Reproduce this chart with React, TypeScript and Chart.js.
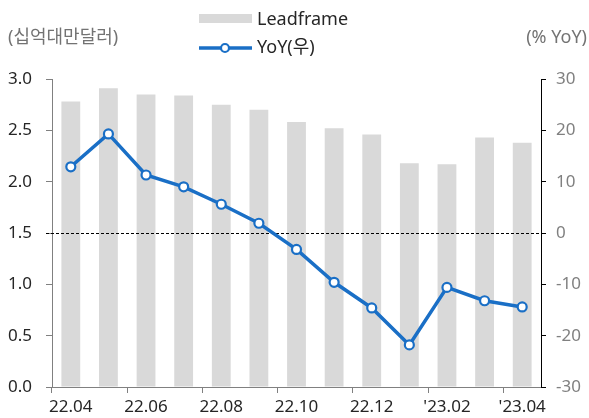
import React, { useEffect, useRef } from "react";
import { Chart, registerables } from "chart.js";

Chart.register(...registerables);

// Monthly categories (x axis)
const months = [
  "22.04", "22.05", "22.06", "22.07", "22.08", "22.09", "22.10",
  "22.11", "22.12", "'23.01", "'23.02", "'23.03", "'23.04",
];

// Leadframe revenue, billion NTD (left axis)
const leadframe = [2.78, 2.91, 2.85, 2.84, 2.75, 2.70, 2.58, 2.52, 2.46, 2.18, 2.17, 2.43, 2.38];

// Year-over-year change, % (right axis)
const yoy = [12.9, 19.3, 11.3, 9.0, 5.6, 1.9, -3.2, -9.6, -14.6, -21.8, -10.6, -13.2, -14.4];

const leftTitle = "(십억대만달러)";
const rightTitle = "(% YoY)";
const barLabel = "Leadframe";
const lineLabel = "YoY(우)";

const FONT = "'Noto Sans', 'Noto Sans CJK KR', sans-serif";
const BAR_COLOR = "#d9d9d9";
const LINE_COLOR = "#1a6fc6";

// Dashed zero line on the right axis, drawn over the bars but under the line
const zeroLine = {
  id: "zeroLine",
  afterDatasetDraw(chart: any, args: any) {
    if (args.meta.type !== "bar") return;
    const { ctx, chartArea } = chart;
    const y = Math.round(chart.scales.y1.getPixelForValue(0)) + 0.5;
    ctx.save();
    ctx.strokeStyle = "#000";
    ctx.lineWidth = 1;
    ctx.setLineDash([3, 2]);
    ctx.beginPath();
    ctx.moveTo(chartArea.left - 6, y);
    ctx.lineTo(chartArea.right, y);
    ctx.stroke();
    ctx.restore();
  },
};

// Axis unit titles and the two-row legend
const headerPlugin = {
  id: "header",
  afterDraw(chart: any) {
    const { ctx } = chart;
    ctx.save();
    ctx.textBaseline = "middle";

    ctx.font = `18px ${FONT}`;
    ctx.fillStyle = "#737373";
    ctx.textAlign = "left";
    ctx.fillText(leftTitle, 8, 38);
    ctx.textAlign = "right";
    ctx.fillText(rightTitle, 587, 38);

    // bar swatch
    ctx.fillStyle = BAR_COLOR;
    ctx.fillRect(199, 14, 53, 9);
    // line swatch
    ctx.strokeStyle = LINE_COLOR;
    ctx.lineWidth = 3.5;
    ctx.beginPath();
    ctx.moveTo(199, 48);
    ctx.lineTo(252, 48);
    ctx.stroke();
    ctx.beginPath();
    ctx.arc(225, 48, 4, 0, Math.PI * 2);
    ctx.fillStyle = "#fff";
    ctx.fill();
    ctx.lineWidth = 2.2;
    ctx.stroke();

    ctx.font = `18px ${FONT}`;
    ctx.fillStyle = "#262626";
    ctx.textAlign = "left";
    ctx.fillText(barLabel, 257, 20);
    ctx.fillText(lineLabel, 257, 48);
    ctx.restore();
  },
};

export default function App() {
  const canvasRef = useRef<HTMLCanvasElement | null>(null);

  useEffect(() => {
    if (!canvasRef.current) return;
    const chart = new Chart(canvasRef.current, {
      type: "bar",
      data: {
        labels: months,
        datasets: [
          {
            type: "line",
            label: lineLabel,
            data: yoy,
            yAxisID: "y1",
            borderColor: LINE_COLOR,
            borderWidth: 3.5,
            pointRadius: 4.5,
            pointBackgroundColor: "#fff",
            pointBorderColor: LINE_COLOR,
            pointBorderWidth: 2.2,
            tension: 0,
            order: 0,
          },
          {
            type: "bar",
            label: barLabel,
            data: leadframe,
            yAxisID: "y",
            backgroundColor: BAR_COLOR,
            categoryPercentage: 1,
            barPercentage: 0.5,
            order: 1,
          },
        ],
      },
      options: {
        animation: false,
        responsive: true,
        maintainAspectRatio: false,
        layout: { padding: { top: 79, left: 0, right: 0, bottom: 0 } },
        plugins: { legend: { display: false }, tooltip: { enabled: false } },
        scales: {
          x: {
            offset: true,
            grid: {
              offset: true,
              drawOnChartArea: false,
              tickLength: 6,
              tickColor: (c: any) => (c.index % 2 === 0 ? "#808080" : "rgba(0,0,0,0)"),
              color: (c: any) => (c.index % 2 === 0 ? "#808080" : "rgba(0,0,0,0)"),
            },
            border: { color: "#808080", width: 1 },
            ticks: {
              autoSkip: false,
              maxRotation: 0,
              padding: 4,
              color: "#262626",
              font: { family: FONT, size: 17 },
              callback: (_v: any, i: number) => (i % 2 === 0 ? months[i] : ""),
            },
            afterFit: (s: any) => {
              s.height = 31;
            },
          },
          y: {
            position: "left",
            min: 0,
            max: 3,
            grid: { drawOnChartArea: false, tickLength: 6, color: "#808080" },
            border: { color: "#808080", width: 1 },
            ticks: {
              stepSize: 0.5,
              padding: 14,
              color: "#262626",
              font: { family: FONT, size: 17 },
              callback: (v: any) => Number(v).toFixed(1),
            },
            afterFit: (s: any) => {
              s.width = 52;
            },
          },
          y1: {
            position: "right",
            min: -30,
            max: 30,
            grid: { drawOnChartArea: false, tickLength: 5, color: "#000" },
            border: { color: "#000", width: 1 },
            ticks: {
              stepSize: 10,
              padding: 10,
              color: "#808080",
              font: { family: FONT, size: 17 },
            },
            afterFit: (s: any) => {
              s.width = 48;
            },
          },
        },
      },
      plugins: [zeroLine, headerPlugin],
    });
    return () => chart.destroy();
  }, []);

  return (
    <div style={{ position: "absolute", left: 0, top: 0, width: 589, height: 418, background: "#fff" }}>
      <canvas ref={canvasRef} />
    </div>
  );
}
